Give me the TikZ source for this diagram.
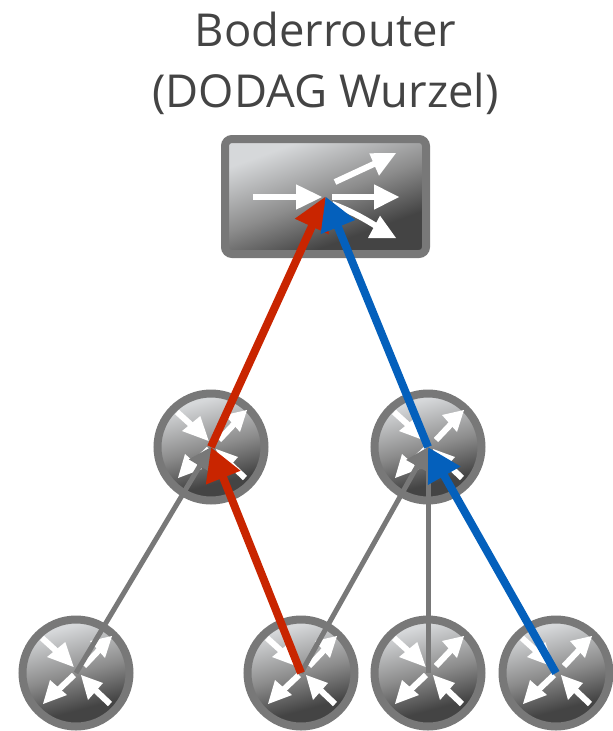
\documentclass[tikz,border=0pt]{standalone}
\usepackage{fontspec}
\setmainfont{Open Sans}
\usetikzlibrary{arrows.meta}
\definecolor{ring}{HTML}{787878}
\definecolor{txt}{HTML}{444444}
\definecolor{gradmid}{HTML}{8C8C8C}
\definecolor{gradtop}{HTML}{D6D8DA}
\definecolor{redarrow}{HTML}{C92500}
\definecolor{bluearrow}{HTML}{0460BC}
\pgfdeclareverticalshading{devgrad}{100bp}{
  color(0bp)=(txt); color(33bp)=(txt); color(50bp)=(gradmid); color(72bp)=(gradtop); color(100bp)=(gradtop)}
\tikzset{
  x=1pt,y=-1pt,
  device/.style={draw=ring,line width=8pt,shading=devgrad,shading angle=15,inner sep=0pt},
  routernode/.style={device,circle,minimum size=107pt},
  rootnode/.style={device,rectangle,rounded corners=7pt,minimum width=201pt,minimum height=115pt,shading angle=20},
  whiteline/.style={draw=white,line width=6pt},
  whitehead/.style={fill=white},
  link/.style={line width=5pt,draw=ring,-{Triangle[length=22pt,width=24pt,fill=ring]}},
  redlink/.style={line width=8pt,draw=redarrow,-{Triangle[length=33pt,width=35pt,fill=redarrow]}},
  bluelink/.style={line width=8pt,draw=bluearrow,-{Triangle[length=33pt,width=35pt,fill=bluearrow]}},
  title/.style={text=txt,font=\fontsize{45.4}{61}\selectfont,align=center},
  routericon/.pic={
    \draw[whiteline] (-34,-35) -- (-12,-15);
    \fill[whitehead] (-2.3,-6) -- (-29,-16) -- (-10.7,-31) -- cycle;
    \draw[whiteline] (8,-7) -- (25,-25);
    \fill[whitehead] (36,-37) -- (14,-32) -- (29,-15) -- cycle;
    \draw[whiteline] (-2,2) -- (-20,19);
    \fill[whitehead] (-33,31) -- (-26,7) -- (-9,22) -- cycle;
    \draw[whiteline] (34,31) -- (15,13);
    \fill[whitehead] (5,2) -- (27,10) -- (12,27) -- cycle;
  }
}
\begin{document}
\begin{tikzpicture}
\useasboundingbox (0,0) rectangle (613,731);
\node[title] (label) at (325.5,63.5) {Boderrouter\\(DODAG Wurzel)};
\node[rootnode] (root) at (325.5,196.5) {};
\node[routernode] (m1) at (211,447) {};
\node[routernode] (m2) at (428,447) {};
\node[routernode] (l1) at (76,673) {};
\node[routernode] (l2) at (301,673) {};
\node[routernode] (l3) at (428,673) {};
\node[routernode] (l4) at (556,673) {};
\foreach \n in {m1,m2,l1,l2,l3,l4} \pic at (\n.center) {routericon};
% root icon
\draw[whiteline] (253,197) -- (298,197);
\fill[whitehead] (322,197) -- (296,184.3) -- (296,209.7) -- cycle;
\draw[whiteline] (332,197) -- (376,197);
\fill[whitehead] (399,197) -- (374,184.3) -- (374,209.7) -- cycle;
\draw[whiteline] (335,182) -- (376,163);
\fill[whitehead] (396,153) -- (369.3,153.3) -- (379,175.7) -- cycle;
\draw[whiteline] (332,204) .. controls (348,210) and (360,216) .. (376,226);
\fill[whitehead] (396,238) -- (368,238) -- (380,215.7) -- cycle;
% links
\draw[link] (l1.center) -- (m1.center);
\draw[link] (l2.center) -- (m2.center);
\draw[link] (l3.center) -- (m2.center);
\draw[redlink] (l2.center) -- (m1.center);
\draw[redlink] (m1.center) -- (root.center);
\draw[bluelink] (l4.center) -- (m2.center);
\draw[bluelink] (m2.center) -- (root.center);
\end{tikzpicture}
\end{document}
